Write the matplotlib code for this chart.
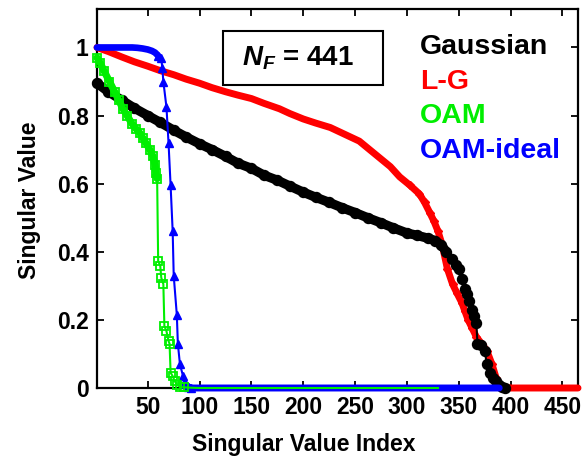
import numpy as np
import matplotlib
matplotlib.use("Agg")
import matplotlib.pyplot as plt

# ---------------- data ----------------
gauss_x = [1, 12, 25, 37, 50, 62, 75, 87, 100, 112, 125, 137, 150, 162, 175, 187,
           200, 212, 225, 237, 250, 262, 275, 287, 300, 310, 320, 327, 333, 338,
           343, 347, 350, 353, 356, 358, 360, 363, 365, 367, 368, 371, 375, 377,
           380, 383, 386, 389, 392, 395]
gauss_y = [0.895, 0.87, 0.845, 0.822, 0.80, 0.78, 0.757, 0.737, 0.717, 0.70, 0.68,
           0.66, 0.645, 0.625, 0.61, 0.593, 0.575, 0.56, 0.545, 0.53, 0.515, 0.50,
           0.485, 0.47, 0.455, 0.448, 0.44, 0.433, 0.42, 0.40, 0.38, 0.36, 0.35,
           0.32, 0.29, 0.275, 0.255, 0.23, 0.21, 0.19, 0.13, 0.125, 0.11, 0.07,
           0.045, 0.03, 0.02, 0.01, 0.004, 0.0]

lg_x = [1, 12, 25, 37, 50, 62, 75, 87, 100, 112, 125, 137, 150, 162, 177, 187,
        200, 212, 226, 240, 254, 264, 274, 284, 293, 303, 312, 317, 322, 326, 330,
        334, 339, 344, 348, 353, 356, 359, 363, 367, 372, 377, 382, 386, 391, 400,
        420, 440, 465]
lg_y = [1.0, 0.988, 0.972, 0.958, 0.945, 0.932, 0.92, 0.907, 0.895, 0.882, 0.87,
        0.86, 0.85, 0.836, 0.82, 0.806, 0.79, 0.778, 0.765, 0.745, 0.725, 0.70,
        0.675, 0.65, 0.62, 0.595, 0.57, 0.545, 0.515, 0.49, 0.46, 0.42, 0.35,
        0.305, 0.28, 0.25, 0.225, 0.20, 0.175, 0.15, 0.13, 0.11, 0.07, 0.03,
        0.005, 0.0, 0.0, 0.0, 0.0]

oam_x = [1, 4, 8, 13, 18, 22, 26, 30, 35, 39, 42, 45, 48, 52, 55, 57, 58, 59,
         60, 62, 63, 65, 66, 68, 70, 71, 72, 74, 76, 78, 81, 85, 90, 100, 110,
         125, 150, 200, 250, 300, 330]
oam_y = [0.97, 0.955, 0.93, 0.90, 0.87, 0.845, 0.82, 0.80, 0.775, 0.76, 0.75,
         0.735, 0.72, 0.70, 0.68, 0.655, 0.63, 0.615, 0.373, 0.359, 0.324, 0.305,
         0.182, 0.167, 0.138, 0.13, 0.045, 0.035, 0.02, 0.01, 0.003, 0.002, 0.001,
         0.0, 0.0, 0.0, 0.0, 0.0, 0.0, 0.0, 0.0]

ideal_x = [1, 5, 10, 15, 20, 25, 30, 35, 40, 45, 50, 54, 57, 60, 63, 64, 65, 68,
           70, 72, 74, 75, 78, 79, 81, 84, 86, 89, 92, 100, 125, 150, 200, 250,
           300, 350, 389]
ideal_y = [1.0, 1.0, 1.0, 1.0, 1.0, 1.0, 1.0, 1.0, 0.999, 0.997, 0.994, 0.99,
           0.985, 0.976, 0.968, 0.94, 0.90, 0.825, 0.72, 0.595, 0.46, 0.33, 0.215,
           0.13, 0.07, 0.035, 0.012, 0.003, 0.0, 0.0, 0.0, 0.0, 0.0, 0.0, 0.0,
           0.0, 0.0]

x_ticks = [50, 100, 150, 200, 250, 300, 350, 400, 450]
y_ticks = [0, 0.2, 0.4, 0.6, 0.8, 1.0]
y_tick_labels = ["0", "0.2", "0.4", "0.6", "0.8", "1"]
legend_labels = ["Gaussian", "L-G", "OAM", "OAM-ideal"]
legend_colors = ["black", "#ff0000", "#00ee00", "#0000ff"]
nf_text = r"$\boldsymbol{N_F}$ = 441"

# ---------------- figure ----------------
plt.rcParams["font.family"] = ["Liberation Sans", "DejaVu Sans"]
plt.rcParams["font.weight"] = "bold"
plt.rcParams["mathtext.fontset"] = "custom"
plt.rcParams["mathtext.it"] = "Liberation Sans:italic:bold"
plt.rcParams["mathtext.bf"] = "Liberation Sans:italic:bold"
plt.rcParams["mathtext.rm"] = "Liberation Sans:bold"

W, H = 584, 462
fig = plt.figure(figsize=(W / 100, H / 100), dpi=100)
L, R, T, B = 97, 578, 9, 388
ax = fig.add_axes([L / W, 1 - B / H, (R - L) / W, (B - T) / H])


def arr(a):
    return np.asarray(a, dtype=float)


def band(x, y, xmin, xmax, color, lw, z):
    x, y = arr(x), arr(y)
    m = (x >= xmin) & (x <= xmax)
    ax.plot(x[m], y[m], color=color, lw=lw, solid_capstyle="round",
            solid_joinstyle="round", zorder=z, clip_on=False)


def mark_range(x, xmin, xmax):
    x = arr(x)
    return list((x >= xmin) & (x <= xmax))


# L-G (red)
ax.plot(lg_x, lg_y, color="#ff0000", lw=5.0, marker="D", ms=4.5,
        markevery=mark_range(lg_x, 300, 395),
        solid_capstyle="round", solid_joinstyle="round", zorder=3, clip_on=False)

# Gaussian (black)
band(gauss_x, gauss_y, 1, 342, "black", 6.8, 4)
ax.plot(gauss_x, gauss_y, color="black", lw=1.5, marker="o", ms=7.2,
        zorder=4, clip_on=False)

# OAM-ideal (blue)
band(ideal_x, ideal_y, 1, 62, "#0000ff", 4.8, 6)
band(ideal_x, ideal_y, 86, 389, "#0000ff", 5.0, 6)
ax.plot(ideal_x, ideal_y, color="#0000ff", lw=1.5, marker="^", ms=6,
        markevery=mark_range(ideal_x, 60, 92),
        zorder=6, clip_on=False)

# OAM (green)
band(oam_x, oam_y, 1, 59, "#00ee00", 5.2, 5)
ax.plot(oam_x, oam_y, color="#00ee00", lw=1.5, marker="s", ms=5.5,
        mfc="none", mew=1.3, markevery=mark_range(oam_x, 1, 85),
        zorder=6.5, clip_on=False)

ax.set_xlim(1, 465)
ax.set_ylim(0, 1.113)
ax.set_xticks(x_ticks)
ax.set_yticks(y_ticks)
ax.set_yticklabels(y_tick_labels)
ax.tick_params(direction="in", length=5, width=1.3, top=True, right=True,
               labelsize=16.5, pad=6)
for lab in ax.get_xticklabels() + ax.get_yticklabels():
    lab.set_fontweight("bold")
for s in ax.spines.values():
    s.set_linewidth(1.6)

fig.text(304 / W, 1 - 445 / H, "Singular Value Index", ha="center", va="center",
         fontsize=16.5, fontweight="bold")
fig.text(30 / W, 1 - 200 / H, "Singular Value", ha="center", va="center",
         rotation=90, fontsize=16.5, fontweight="bold")

# N_F box
ax.add_patch(plt.Rectangle((223 / W, 1 - 85 / H), 160 / W, 54 / H,
                           transform=fig.transFigure, fill=False, lw=1.5,
                           ec="black", zorder=7, clip_on=False))
fig.text(298 / W, 1 - 58 / H, nf_text, ha="center", va="center",
         fontsize=20, fontweight="bold")

# text legend
ys = [47, 82, 116, 151]
for lab, col, yy in zip(legend_labels, legend_colors, ys):
    fig.text(420 / W, 1 - yy / H, lab, color=col, ha="left", va="center",
             fontsize=20.5, fontweight="bold")

fig.savefig("out.png", dpi=100)
